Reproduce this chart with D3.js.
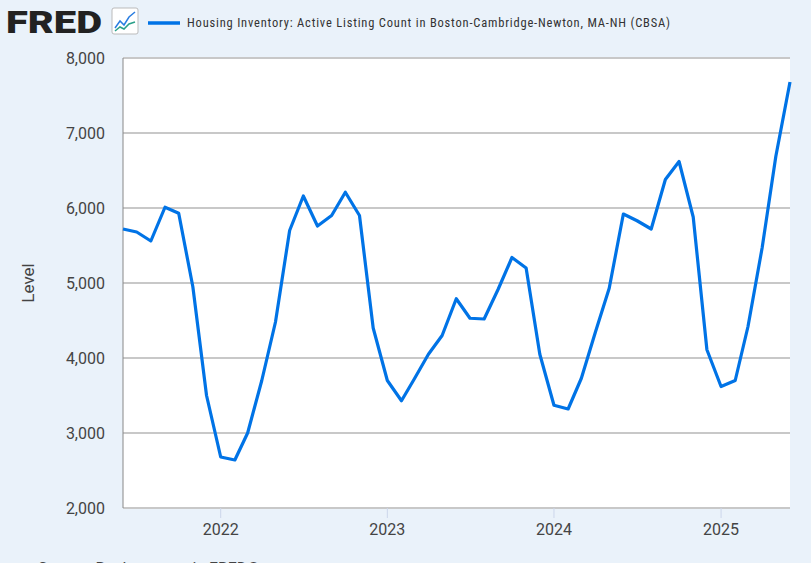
<!DOCTYPE html><html><head><meta charset="utf-8">
<script src="https://cdn.jsdelivr.net/npm/d3@7"></script>
<style>body{margin:0;background:#eaf2fa;}svg{display:block;font-family:Roboto,"Liberation Sans",sans-serif;}</style>
</head><body><svg id="c" width="811" height="563"></svg>
<script>
const title = "Housing Inventory: Active Listing Count in Boston-Cambridge-Newton, MA-NH (CBSA)";
const startMonth = "2021-06";
const values = [5720,5680,5560,6010,5930,4950,3500,2680,2640,3000,3700,4480,5700,6160,5760,5900,6210,5900,4400,3700,3430,3720,4050,4300,4790,4530,4520,4920,5340,5200,4050,3370,3320,3730,4350,4930,5920,5830,5720,6380,6620,5880,4110,3620,3700,4420,5470,6690,7680];
const yTicks = [2000,3000,4000,5000,6000,7000,8000];
const xTickYears = [2022,2023,2024,2025];

const dates = values.map((v,i)=>new Date(2021,5+i,1));
const svg = d3.select("#c");
svg.append("rect").attr("width",811).attr("height",563).attr("fill","#eaf2fa");
const L=123,R=790,T=58,B=508;
const x = d3.scaleTime().domain([dates[0],dates[dates.length-1]]).range([L,R]);
const y = d3.scaleLinear().domain([2000,8000]).range([B,T]);
svg.append("rect").attr("x",L).attr("y",T).attr("width",R-L).attr("height",B-T).attr("fill","#fff");
svg.append("g").selectAll("line").data(yTicks).join("line")
 .attr("x1",L).attr("x2",R).attr("y1",d=>y(d)).attr("y2",d=>y(d))
 .attr("stroke","#c8c8c8").attr("stroke-width",2);
svg.append("line").attr("x1",L).attr("x2",L).attr("y1",T).attr("y2",B).attr("stroke","#888").attr("stroke-width",1);
svg.append("g").selectAll("text").data(yTicks).join("text")
 .attr("x",L-18).attr("y",d=>y(d)).attr("dy","0.35em").attr("text-anchor","end")
 .attr("font-size",16).attr("fill","#444").text(d3.format(","));
const xt = xTickYears.map(yr=>new Date(yr,0,1));
svg.append("g").selectAll("line").data(xt).join("line")
 .attr("x1",d=>x(d)).attr("x2",d=>x(d)).attr("y1",B).attr("y2",B+10).attr("stroke","#ccd6eb");
svg.append("g").selectAll("text").data(xt).join("text")
 .attr("x",d=>x(d)).attr("y",B+27).attr("text-anchor","middle")
 .attr("font-size",16).attr("fill","#444").text(d=>d.getFullYear());
svg.append("text").attr("transform",`translate(34,${(T+B)/2}) rotate(-90)`).attr("text-anchor","middle")
 .attr("font-size",17).attr("fill","#444").text("Level");
svg.append("path").datum(values).attr("fill","none").attr("stroke","#0073e6").attr("stroke-width",3.2)
 .attr("stroke-linejoin","round")
 .attr("d",d3.line().x((d,i)=>x(dates[i])).y(d=>y(d)));
// header
svg.append("text").attr("x",6).attr("y",33).attr("font-size",32).attr("font-weight",900)
 .attr("fill","#222").attr("textLength",96).attr("lengthAdjust","spacingAndGlyphs").text("FRED");
const ic = svg.append("g").attr("transform","translate(112,8)");
ic.append("rect").attr("width",26).attr("height",26).attr("rx",2).attr("fill","#fff").attr("stroke","#bbb");
ic.append("polyline").attr("points","3,20 8,13 12,17 17,9 23,4").attr("fill","none").attr("stroke","#2a7de1").attr("stroke-width",1.5);
ic.append("polyline").attr("points","3,23 8,19 12,21 17,16 23,14").attr("fill","none").attr("stroke","#2aa08a").attr("stroke-width",1.5);
svg.append("line").attr("x1",148).attr("x2",180).attr("y1",23).attr("y2",23).attr("stroke","#0073e6").attr("stroke-width",3.5);
svg.append("text").attr("x",187).attr("y",23).attr("dy","0.35em").attr("font-size",12.5).attr("fill","#333")
 .attr("font-family","'Roboto Condensed',Roboto,sans-serif").attr("textLength",483).text(title);
svg.append("text").attr("x",38).attr("y",574).attr("font-size",16).attr("fill","#444").text("Source: Realtor.com via FRED®");
</script></body></html>
